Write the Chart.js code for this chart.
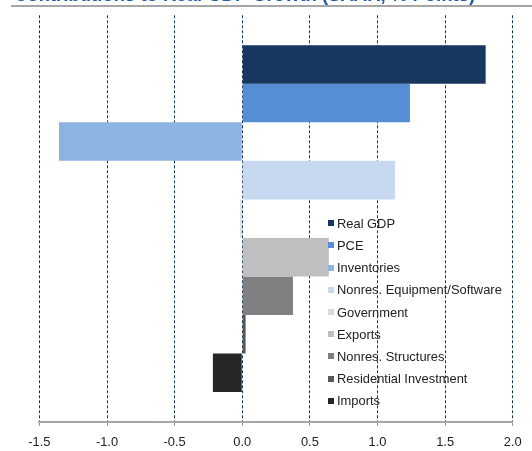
<!DOCTYPE html>
<html>
<head>
<meta charset="utf-8">
<script src="https://cdn.jsdelivr.net/npm/chart.js@4/dist/chart.umd.min.js"></script>
<style>
  html, body { margin: 0; padding: 0; background: #fff; }
  #wrap { position: relative; width: 532px; height: 451px; overflow: hidden; font-family: Arial, "Liberation Sans", sans-serif; }
  #title { position: absolute; left: 14px; top: -14px; font-size: 18.5px; line-height: 18.5px; font-weight: bold; color: #1f5ba8; white-space: nowrap; }
  #rule { position: absolute; left: 11px; top: 4.7px; width: 521px; height: 2.6px; background: #a6a6a6; }
  #chart { position: absolute; left: 0; top: 0; }
  #legend { position: absolute; left: 328px; top: 212.2px; }
  .item { display: flex; align-items: center; height: 22.2px; font-size: 12.9px; color: #222; white-space: nowrap; }
  .box { width: 6px; height: 6px; margin-right: 3px; }
</style>
</head>
<body>
<div id="wrap">
  <canvas id="chart" width="532" height="451"></canvas>
  <div id="title">Contributions to Real GDP Growth (SAAR, % Points)</div>
  <div id="rule"></div>
  <div id="legend"></div>
</div>
<script>
const seriesNames = ['Real GDP', 'PCE', 'Inventories', 'Nonres. Equipment/Software', 'Government', 'Exports', 'Nonres. Structures', 'Residential Investment', 'Imports'];
const seriesValues = [1.80, 1.24, -1.355, 1.13, -0.015, 0.64, 0.375, 0.025, -0.217];
const seriesColors = ['#17375e', '#558ed5', '#8db3e2', '#c6d9f1', '#d9d9d9', '#bfbfbf', '#808080', '#595959', '#262626'];
const xTicks = [-1.5, -1.0, -0.5, 0.0, 0.5, 1.0, 1.5, 2.0];

const datasets = seriesNames.map((name, i) => ({
    label: name,
    data: [seriesValues[i]],
    backgroundColor: seriesColors[i],
    borderWidth: 0,
    barPercentage: 1,
    categoryPercentage: 0.853
}));

new Chart(document.getElementById('chart'), {
    type: 'bar',
    data: { labels: [''], datasets },
    options: {
        indexAxis: 'y',
        responsive: false,
        animation: false,
        layout: { padding: { left: 39.4, right: 19.3, top: 15.3, bottom: 0 } },
        plugins: { legend: { display: false }, tooltip: { enabled: false } },
        scales: {
            y: { display: false },
            x: {
                min: xTicks[0],
                max: xTicks[xTicks.length - 1],
                afterFit: (s) => { s.height = 29; },
                afterBuildTicks: (s) => { s.ticks = xTicks.map(v => ({ value: v })); },
                ticks: {
                    color: '#222',
                    font: { family: 'Arial, "Liberation Sans", sans-serif', size: 12.9 },
                    padding: 9,
                    callback: (v) => Number(v).toFixed(1)
                },
                grid: { color: '#17375e', lineWidth: 1, tickLength: 4, tickColor: '#999' },
                border: { color: '#a6a6a6', width: 2, dash: [3, 2] }
            }
        }
    }
});

document.getElementById('legend').innerHTML = seriesNames
    .map((n, i) => `<div class="item"><span class="box" style="background:${seriesColors[i]}"></span>${n}</div>`)
    .join('');
</script>
</body>
</html>
